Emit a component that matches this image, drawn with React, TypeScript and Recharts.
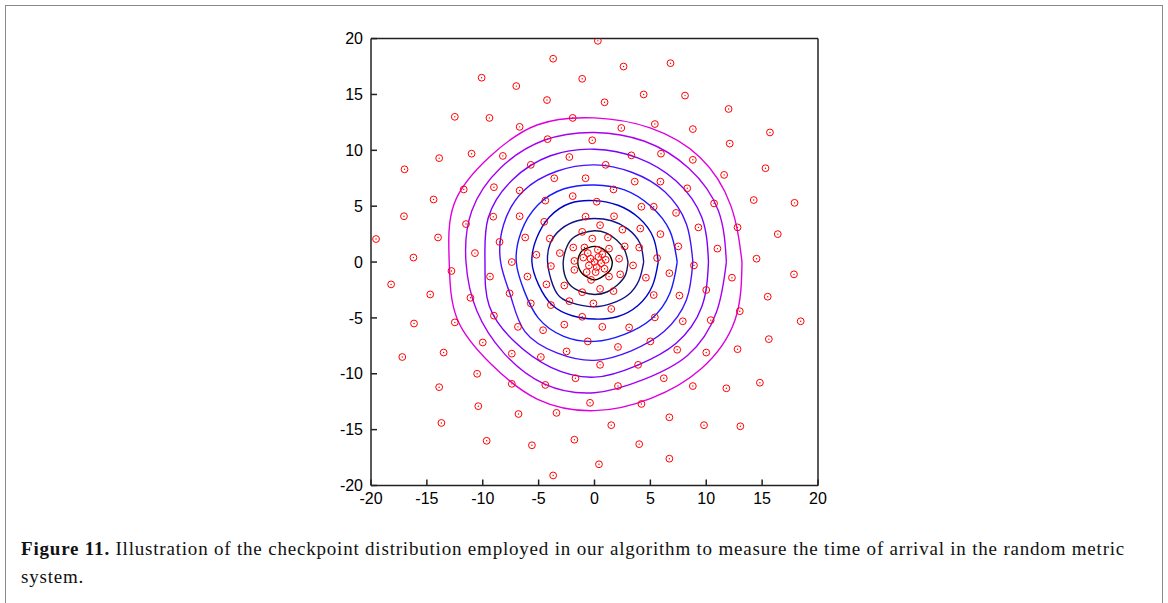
import { ScatterChart, Scatter, XAxis, YAxis } from "recharts";

const axisTicks = [-20, -15, -10, -5, 0, 5, 10, 15, 20];

// radii of each arrival front, read at every 22.5 degrees (counter-clockwise from +x)
const ringAngles = [0, 22.5, 45, 67.5, 90, 112.5, 135, 157.5, 180, 202.5, 225, 247.5, 270, 292.5, 315, 337.5];
const ring1 = [1.6, 1.5, 1.4, 1.4, 1.4, 1.4, 1.5, 1.5, 1.5, 1.5, 1.5, 1.5, 1.6, 1.5, 1.5, 1.6];
const ring2 = [3.0, 2.9, 2.8, 2.8, 2.8, 2.8, 2.9, 2.8, 2.8, 2.9, 3.0, 2.9, 2.9, 2.9, 2.9, 3.0];
const ring3 = [4.4, 4.4, 4.2, 4.0, 3.9, 4.0, 4.2, 4.3, 4.2, 4.2, 4.4, 4.1, 4.0, 4.0, 4.2, 4.3];
const ring4 = [5.7, 5.7, 5.6, 5.5, 5.5, 5.7, 5.7, 5.6, 5.6, 5.4, 5.4, 5.2, 5.1, 5.3, 5.5, 5.6];
const ring5 = [7.4, 7.3, 7.1, 7.0, 6.9, 7.1, 7.2, 7.1, 7.0, 6.8, 7.1, 7.2, 7.1, 7.0, 7.2, 7.3];
const ring6 = [8.8, 8.9, 8.9, 8.7, 8.7, 8.8, 9.0, 8.8, 8.4, 8.1, 8.8, 8.8, 8.8, 8.6, 8.8, 8.9];
const ring7 = [10.2, 10.4, 10.3, 10.1, 10.1, 10.3, 10.4, 10.3, 9.8, 10.2, 10.1, 10.2, 10.3, 10.0, 10.3, 10.4];
const ring8 = [11.8, 12.0, 11.9, 11.7, 11.6, 11.8, 11.9, 11.9, 11.5, 11.4, 11.5, 11.8, 11.7, 11.4, 11.8, 11.8];
const ring9 = [13.2, 13.2, 13.3, 13.0, 12.9, 13.3, 13.3, 13.6, 13.0, 13.3, 13.0, 13.3, 13.3, 13.2, 13.5, 13.6];
const rings = [ring1, ring2, ring3, ring4, ring5, ring6, ring7, ring8, ring9];
const ringColors = ["#000000", "#14145a", "#10108c", "#0000c8", "#1a1aff", "#4a10ff", "#7a00ff", "#a800f0", "#de00de"];

const checkpoints: [number, number][] = [
  [-10.1, 16.5], [-7.0, 15.75], [-12.5, 13.0], [-9.4, 12.9], [-6.7, 12.1], [-11.0, 9.7], [-13.9, 9.3], [-17.0, 8.3], [-8.2, 9.5],
  [0.3, 19.8], [-3.7, 18.2], [2.6, 17.5], [6.8, 17.8], [-1.1, 16.4], [-4.25, 14.5], [0.9, 14.3], [4.4, 15.0], [-1.95, 12.9],
  [2.4, 12.0], [5.4, 12.35], [-4.2, 11.0], [-0.2, 10.9], [-2.25, 9.4], [3.3, 9.55], [5.95, 9.7], [-5.7, 8.7], [1.0, 8.7],
  [-3.6, 7.5], [-0.8, 7.5], [3.6, 7.2], [5.9, 7.2],
  [8.1, 14.9], [12.0, 13.7], [8.8, 11.9], [15.7, 11.6], [12.1, 10.6], [8.8, 9.15], [15.3, 8.4], [11.6, 7.8],
  [-11.7, 6.5], [-9.0, 6.7], [-14.4, 5.6], [-6.7, 6.4], [-17.05, 4.1], [-11.5, 3.4], [-9.06, 4.06], [-6.7, 4.1], [-19.55, 2.06],
  [-14.0, 2.2], [-8.5, 1.8], [-10.7, 0.8], [-16.2, 0.4], [-7.4, 0.0], [-12.8, -0.8], [-9.35, -1.3], [-18.2, -2.0], [-14.7, -2.9],
  [-11.1, -3.2], [-7.6, -2.8], [-9.0, -4.8], [-16.15, -5.5], [-12.5, -5.4], [-6.85, -5.8],
  [1.7, 6.5], [-1.95, 5.9], [-4.4, 5.5], [0.2, 5.4], [4.2, 4.95], [5.3, 4.95], [-0.8, 4.06], [-4.5, 3.6], [1.75, 4.1],
  [0.5, 3.3], [2.5, 2.9], [4.1, 3.0], [-1.1, 2.7], [-6.2, 2.2], [-4.0, 2.1], [-0.2, 2.1], [1.2, 2.2], [5.9, 2.5],
  [-1.9, 1.3], [-0.9, 1.3], [0.3, 1.1], [1.3, 1.2], [2.7, 1.4], [4.0, 1.3], [-3.1, 0.8], [-5.2, 0.65], [5.6, 0.36],
  [-1.0, 0.4], [2.2, 0.3], [-1.8, 0.1], [3.45, -0.3], [-3.9, -0.36], [-1.8, -0.7], [2.3, -1.1], [1.3, -1.3], [-6.0, -1.3],
  [4.6, -1.4], [-4.3, -2.0], [-2.7, -2.1], [-0.3, -1.6], [6.7, -1.0], [-1.1, -2.7], [0.5, -2.4], [1.7, -2.6], [5.3, -2.95],
  [-2.25, -3.5], [-5.7, -3.7], [-0.1, -3.7], [1.5, -4.2], [-3.9, -3.85], [-1.1, -4.9], [5.4, -4.95], [-2.7, -5.6],
  [0.7, -5.8], [3.1, -5.85], [-4.6, -6.1],
  [0.0, 0.0], [0.35, 0.45], [-0.35, 0.3], [0.2, -0.45], [0.6, -0.1], [-0.5, -0.3], [0.7, 0.7], [-0.6, 0.8], [0.9, -0.6],
  [0.1, -0.9], [-0.7, -0.9], [1.0, 0.2],
  [8.3, 6.6], [10.7, 5.25], [14.25, 5.55], [17.9, 5.3], [7.3, 4.4], [9.3, 3.1], [12.8, 3.1], [16.4, 2.5], [7.5, 1.4],
  [11.0, 1.2], [14.5, 0.3], [8.9, -0.3], [17.85, -1.1], [12.3, -1.4], [15.5, -3.1], [7.6, -3.0], [10.0, -2.5], [13.0, -4.4],
  [7.9, -5.3], [10.4, -5.2], [18.45, -5.3],
  [-10.0, -7.2], [-13.5, -8.1], [-17.2, -8.5], [-7.4, -8.2], [-10.5, -10.0], [-13.9, -11.2], [-7.4, -10.9], [-10.4, -12.9],
  [-6.8, -13.6], [-13.7, -14.4], [-9.65, -16.0],
  [-0.6, -7.1], [5.0, -7.1], [-2.5, -8.0], [2.1, -7.6], [-4.8, -8.5], [0.5, -9.2], [3.9, -9.2], [-1.7, -10.4], [6.2, -10.4],
  [-4.4, -11.0], [2.1, -11.1], [-0.4, -12.6], [4.2, -12.7], [-3.4, -13.5], [6.7, -13.9], [1.5, -14.6], [-5.6, -16.4],
  [-1.8, -15.9], [4.0, -16.3], [6.7, -17.6], [0.4, -18.1], [-3.7, -19.1],
  [15.6, -6.9], [7.4, -7.85], [10.0, -8.1], [12.8, -7.8], [8.8, -11.1], [11.8, -11.3], [14.8, -10.8], [9.8, -14.6], [13.05, -14.7],
];

const ringPoints = (radii: number[]) =>
  [...radii, radii[0]].map((r, i) => {
    const a = (ringAngles[i % ringAngles.length] * Math.PI) / 180;
    return { x: r * Math.cos(a), y: r * Math.sin(a) };
  });

const checkpointData = checkpoints.map(([x, y]) => ({ x, y }));

const axisColor = "#222";
const tickFont = { fontSize: 16, fill: "#000", fontFamily: "Liberation Sans, Arial, sans-serif" };

const Checkpoint = (props: any) => (
  <g>
    <circle cx={props.cx} cy={props.cy} r={3.4} fill="none" stroke="#ff0000" strokeWidth={1} />
    <circle cx={props.cx} cy={props.cy} r={0.7} fill="#ff0000" />
  </g>
);

const NoMark = () => <g />;

export default function App() {
  return (
    <div style={{ position: "absolute", left: 0, top: 0, width: 1168, height: 603, background: "#fff", overflow: "hidden" }}>
      <div
        style={{
          position: "absolute",
          left: 5,
          top: 5,
          width: 1156,
          height: 620,
          borderTop: "1px solid #8a8a8a",
          borderLeft: "1px solid #8a8a8a",
          borderRight: "1px solid #8a8a8a",
        }}
      />
      <div style={{ position: "absolute", left: 0, top: 0 }}>
        <ScatterChart width={1168} height={520} margin={{ top: 37.6, right: 349, bottom: 4.5, left: 331 }}>
          <XAxis
            xAxisId="b"
            type="number"
            dataKey="x"
            domain={[-20, 20]}
            ticks={axisTicks}
            allowDataOverflow
            height={30}
            tickSize={-6}
            tickMargin={13}
            tick={tickFont}
            stroke={axisColor}
            strokeWidth={1.5}
          />
          <XAxis
            xAxisId="t"
            orientation="top"
            type="number"
            dataKey="x"
            domain={[-20, 20]}
            ticks={axisTicks}
            allowDataOverflow
            height={1}
            tickSize={-6}
            tick={false}
            stroke={axisColor}
            strokeWidth={1.5}
          />
          <YAxis
            yAxisId="l"
            type="number"
            dataKey="y"
            domain={[-20, 20]}
            ticks={axisTicks}
            allowDataOverflow
            width={40}
            tickSize={-6}
            tickMargin={14}
            tick={tickFont}
            stroke={axisColor}
            strokeWidth={1.5}
          />
          <YAxis
            yAxisId="r"
            orientation="right"
            type="number"
            dataKey="y"
            domain={[-20, 20]}
            ticks={axisTicks}
            allowDataOverflow
            width={1}
            tickSize={-6}
            tick={false}
            stroke={axisColor}
            strokeWidth={1.5}
          />
          {/* binds the mirrored top/right axes so they are drawn */}
          <Scatter xAxisId="t" yAxisId="r" data={checkpointData} shape={NoMark} isAnimationActive={false} />
          {rings.map((r, i) => (
            <Scatter
              key={i}
              xAxisId="b"
              yAxisId="l"
              data={ringPoints(r)}
              line={{ stroke: ringColors[i], strokeWidth: 1.4 }}
              lineJointType="natural"
              shape={NoMark}
              isAnimationActive={false}
            />
          ))}
          <Scatter xAxisId="b" yAxisId="l" data={checkpointData} shape={Checkpoint} isAnimationActive={false} />
        </ScatterChart>
      </div>
      <div
        style={{
          position: "absolute",
          left: 21,
          top: 535,
          width: 1140,
          fontFamily: "Liberation Serif, Times New Roman, serif",
          fontSize: 19,
          letterSpacing: 0.8,
          lineHeight: "28px",
          color: "#111",
          whiteSpace: "nowrap",
        }}
      >
        <b>Figure 11.</b> Illustration of the checkpoint distribution employed in our algorithm to measure the time of arrival in the random metric
        <br />
        system.
      </div>
    </div>
  );
}
